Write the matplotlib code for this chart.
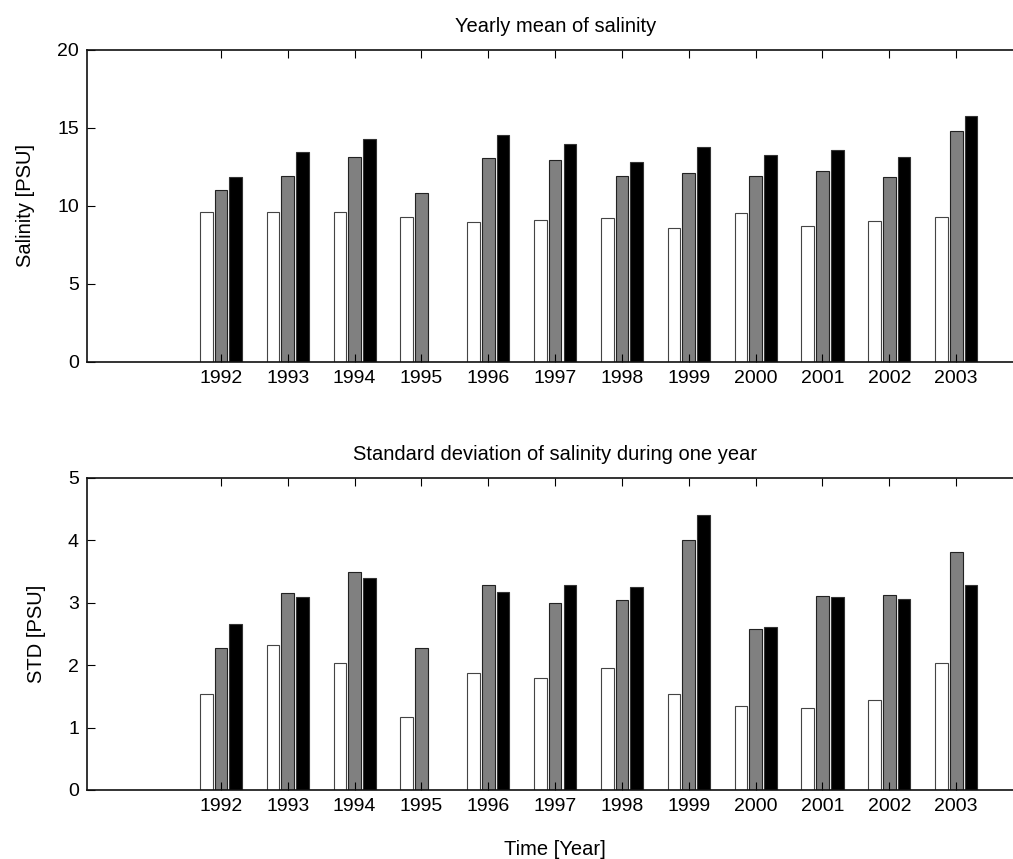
import matplotlib
matplotlib.use("Agg")
import matplotlib.pyplot as plt
import numpy as np

plt.rcParams['font.family'] = ['Liberation Sans', 'DejaVu Sans']

years = [1992, 1993, 1994, 1995, 1996, 1997, 1998, 1999, 2000, 2001, 2002, 2003]

# yearly mean salinity, three series (white, gray, black)
mean_white = [9.62, 9.62, 9.62, 9.30, 8.98, 9.09, 9.20, 8.60, 9.52, 8.69, 9.01, 9.30]
mean_gray = [11.02, 11.93, 13.15, 10.82, 13.05, 12.94, 11.93, 12.13, 11.93, 12.24, 11.85, 14.78]
mean_black = [11.85, 13.45, 14.27, 0.0, 14.57, 13.97, 12.83, 13.78, 13.26, 13.58, 13.15, 15.78]

# standard deviation during one year
std_white = [1.54, 2.33, 2.03, 1.17, 1.88, 1.80, 1.95, 1.54, 1.34, 1.32, 1.45, 2.03]
std_gray = [2.28, 3.16, 3.49, 2.28, 3.29, 2.99, 3.04, 4.00, 2.58, 3.11, 3.13, 3.82]
std_black = [2.66, 3.10, 3.40, 0.0, 3.17, 3.29, 3.25, 4.40, 2.61, 3.10, 3.06, 3.29]

W, H = 1013, 859
fig = plt.figure(figsize=(W / 100, H / 100), dpi=100)

left = 87.3 / W
width = (1023 - 87.3) / W  # right edge falls outside the picture, as in the original
ax1 = fig.add_axes([left, 1 - 361.7 / H, width, 311.7 / H])
ax2 = fig.add_axes([left, 1 - 790 / H, width, 312 / H])

x = np.array(years, dtype=float)
bw, off = 0.19, 0.22


def draw(ax, white, gray, black, ylim, yticks, ylabel, title):
    ax.bar(x - off, white, bw, color='white', edgecolor='#444444', linewidth=0.8)
    ax.bar(x, gray, bw, color='#808080', edgecolor='#222222', linewidth=0.8)
    ax.bar(x + off, black, bw, color='black', edgecolor='#333333', linewidth=0.8)
    ax.set_xlim(1990, 2004)
    ax.set_ylim(*ylim)
    ax.set_xticks(years)
    ax.set_xticklabels([str(y) for y in years])
    ax.set_yticks(yticks)
    ax.tick_params(direction='in', length=6, width=0.8, top=True, right=True,
                   labelsize=14, pad=6)
    for s in ax.spines.values():
        s.set_linewidth(1.2)
        s.set_color('#111111')
    ax.set_ylabel(ylabel, fontsize=14.5, labelpad=16)
    ax.set_title(title, fontsize=14.5, pad=13)


draw(ax1, mean_white, mean_gray, mean_black, (0, 20), [0, 5, 10, 15, 20],
     'Salinity [PSU]', 'Yearly mean of salinity')
draw(ax2, std_white, std_gray, std_black, (0, 5), [0, 1, 2, 3, 4, 5],
     'STD [PSU]', 'Standard deviation of salinity during one year')
ax2.set_xlabel('Time [Year]', fontsize=14.5, labelpad=18)

fig.savefig('out.png', dpi=100)
